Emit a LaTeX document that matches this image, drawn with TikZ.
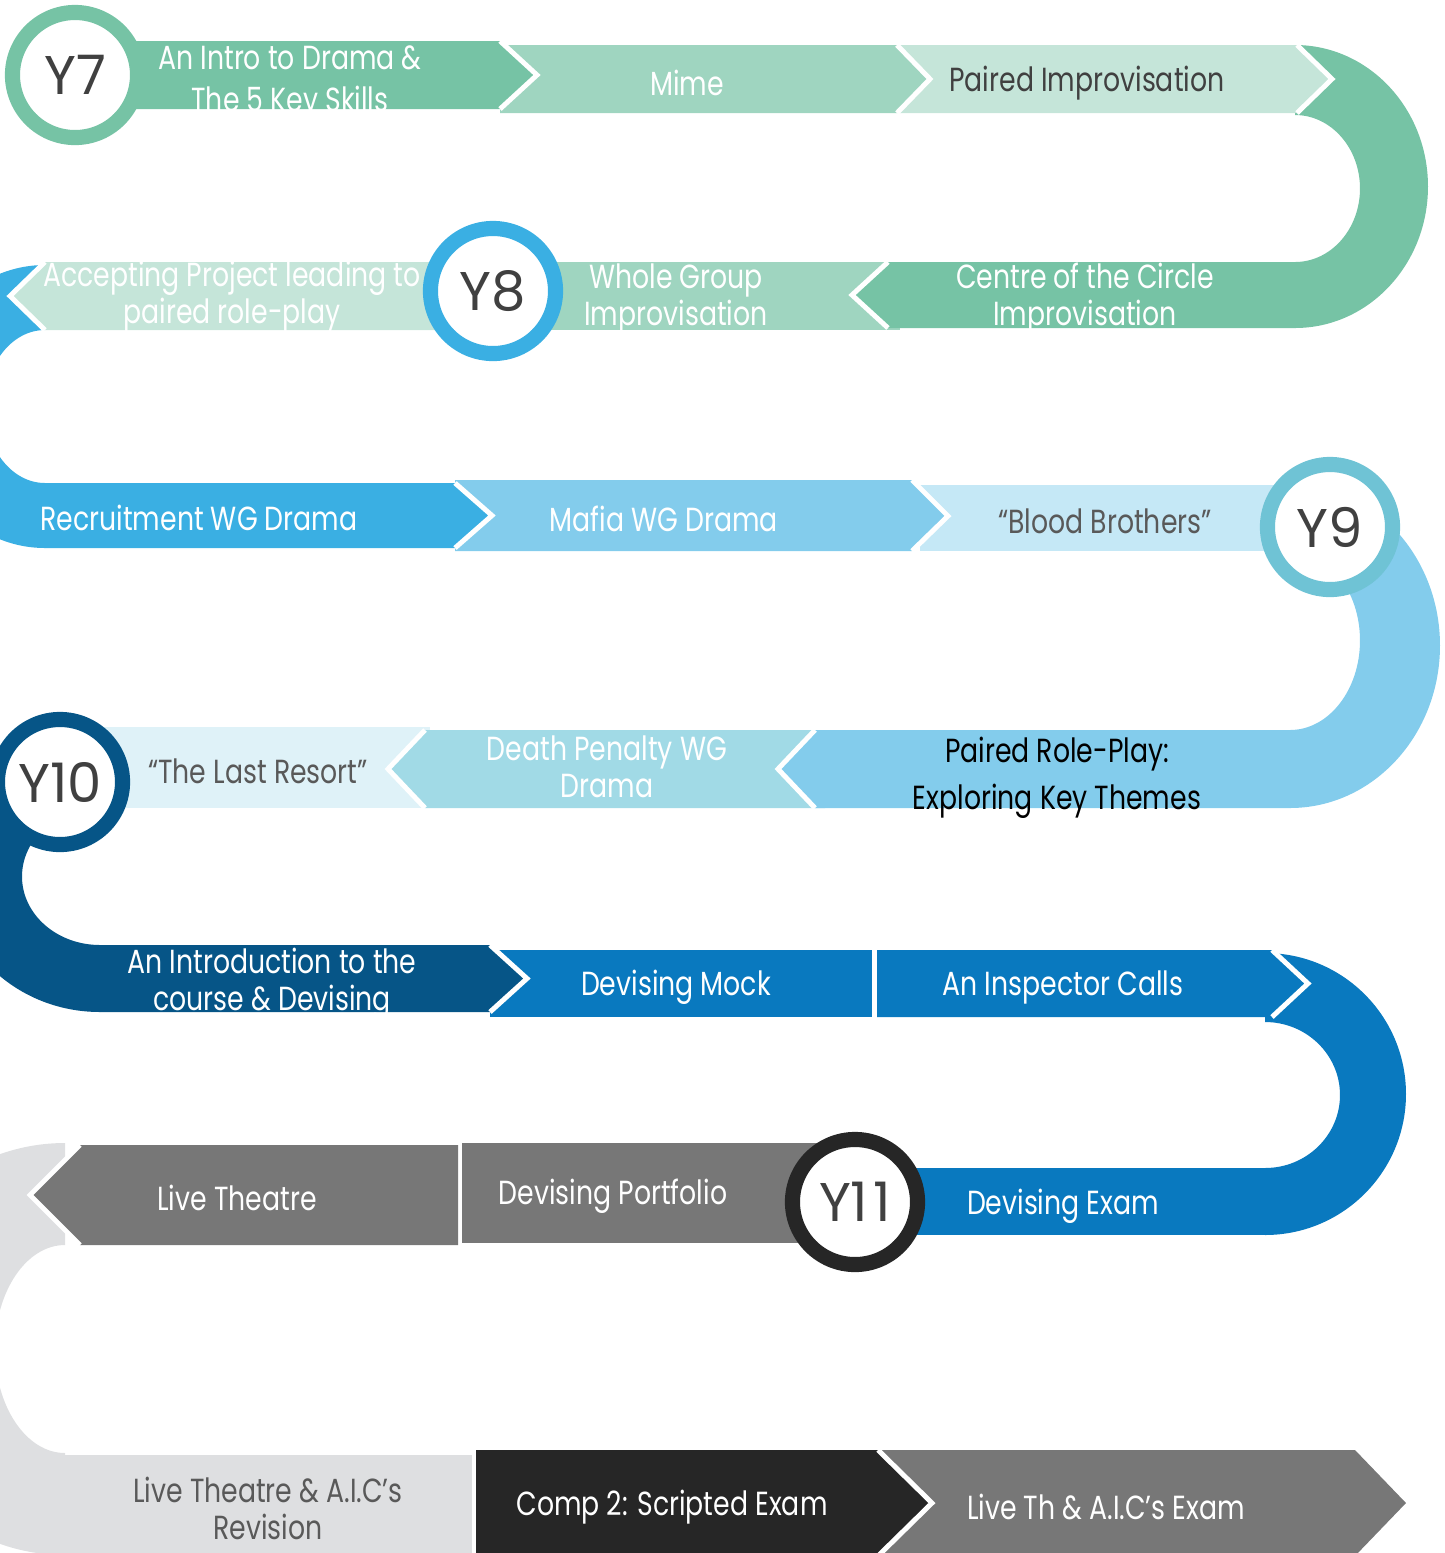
\documentclass[tikz,border=0pt]{standalone}
\usepackage{fontspec}
\setmainfont[FakeStretch=0.8]{Poppins}
\newfontfamily\yearfont{Poppins}

\definecolor{greenA}{HTML}{76C3A5}
\definecolor{greenB}{HTML}{9FD5C0}
\definecolor{greenC}{HTML}{C5E5D9}
\definecolor{blueA}{HTML}{3AAFE3}
\definecolor{blueB}{HTML}{83CCEC}
\definecolor{blueC}{HTML}{C5E8F6}
\definecolor{tealA}{HTML}{6FC3D5}
\definecolor{tealB}{HTML}{A1DAE6}
\definecolor{tealC}{HTML}{DFF2F8}
\definecolor{navy}{HTML}{065587}
\definecolor{royal}{HTML}{0979BF}
\definecolor{coal}{HTML}{262626}
\definecolor{slate}{HTML}{777777}
\definecolor{mist}{HTML}{DEDFE1}
\definecolor{ink}{HTML}{404040}
\definecolor{inkB}{HTML}{595959}

\begin{document}
\begin{tikzpicture}[x=0.01cm, y=-0.01cm,
    lbl/.style={text=white, align=center, yshift=-0.8pt, font=\fontsize{9.5}{10.5}\selectfont},
    gap/.style={draw=white, line width=1.4pt},
    year/.style={circle, draw=#1, line width=4.3pt, fill=white, minimum size=1.25cm,
      inner sep=0pt, text=ink, font=\yearfont\fontsize{15.5}{15.5}\selectfont}]
  \useasboundingbox (0,0) rectangle (1444,1553);
  \clip (0,0) rectangle (1444,1553);

  % Y7 row
  \fill[greenA] (1295,45) arc[start angle=-90, end angle=90, x radius=133, y radius=141.5]
    -- (1295,262) arc[start angle=90, end angle=-90, x radius=65, y radius=73.5] -- cycle;
  \fill[greenC] (897,45) -- (1297,45) -- (1332,79) -- (1297,113) -- (897,113) -- cycle;
  \draw[gap] (1297,45) -- (1332,79) -- (1297,113);
  \fill[greenB] (500,45) -- (897,45) -- (930,79) -- (897,113) -- (500,113) -- cycle;
  \draw[gap] (897,45) -- (930,79) -- (897,113);
  \fill[greenA] (120,41) -- (500,41) -- (537,75) -- (500,109) -- (120,109) -- cycle;
  \draw[gap] (500,41) -- (537,75) -- (500,109);
  \node[lbl, font=\fontsize{9.5}{12}\selectfont] (intro) at (290,80) {An Intro to Drama \&\\The 5 Key Skills};
  \node[lbl] (mime) at (687,80) {Mime};
  \node[lbl, text=ink] (paired) at (1087,80) {Paired Improvisation};
  \node[year=greenA] (y7) at (75,75) {Y7};

  % Y8 row
  \fill[blueA] (45,265) arc[start angle=-90, end angle=-270, x radius=130, y radius=141.5]
    -- (45,483) arc[start angle=90, end angle=270, x radius=60, y radius=76.5] -- cycle;
  \fill[greenB] (540,262) -- (900,262) -- (900,330) -- (540,330) -- cycle;
  \fill[greenA] (1295,262) -- (888,262) -- (852,295) -- (888,328) -- (1295,328) -- cycle;
  \draw[gap] (888,262) -- (852,295) -- (888,328);
  \fill[greenC] (450,262) -- (45,262) -- (10,296) -- (45,330) -- (450,330) -- cycle;
  \draw[gap] (45,262) -- (10,296) -- (45,330);
  \node[lbl] (centre) at (1085,296) {Centre of the Circle\\Improvisation};
  \node[lbl] (whole) at (676,296) {Whole Group\\Improvisation};
  \node[lbl] (accept) at (232,294) {Accepting Project leading to\\paired role-play};
  \node[year=blueA] (y8) at (493,291) {Y8};

  % Y9 row
  \fill[blueB] (1290,483) arc[start angle=-90, end angle=90, x radius=150, y radius=162.5]
    -- (1290,730) arc[start angle=90, end angle=-90, x radius=70, y radius=89.5] -- cycle;
  \fill[blueC] (920,485) -- (1300,485) -- (1300,551) -- (920,551) -- cycle;
  \fill[blueB] (455,480) -- (912,480) -- (948,516) -- (912,551) -- (455,551) -- cycle;
  \draw[gap] (912,480) -- (948,516) -- (912,551);
  \fill[blueA] (45,483) -- (455,483) -- (492,515.5) -- (455,548) -- (45,548) -- cycle;
  \draw[gap] (455,483) -- (492,515.5) -- (455,548);
  \node[lbl] (recruit) at (199,515) {Recruitment WG Drama};
  \node[lbl] (mafia) at (664,516) {Mafia WG Drama};
  \node[lbl, text=inkB] (blood) at (1105,518) {“Blood Brothers”};
  \node[year=tealA] (y9) at (1330,527) {Y9};

  % Y10 row
  \fill[navy] (100,730) arc[start angle=-90, end angle=-270, x radius=150, y radius=141]
    -- (100,945) arc[start angle=90, end angle=270, x radius=78, y radius=68.5] -- cycle;
  \fill[tealC] (70,727) -- (430,727) -- (430,808) -- (70,808) -- cycle;
  \fill[tealB] (825,730) -- (425,730) -- (388,769) -- (425,808) -- (825,808) -- cycle;
  \draw[gap] (425,730) -- (388,769) -- (425,808);
  \fill[blueB] (1290,730) -- (815,730) -- (778,769) -- (815,808) -- (1290,808) -- cycle;
  \draw[gap] (815,730) -- (778,769) -- (815,808);
  \node[lbl, text=black, font=\fontsize{9.5}{13.4}\selectfont] (roleplay) at (1057,775) {Paired Role-Play:\\Exploring Key Themes};
  \node[lbl] (death) at (607,764) {Death Penalty WG\\Drama};
  \node[lbl, text=inkB] (resort) at (258,768) {“The Last Resort”};
  \node[year=navy] (y10) at (60,782) {Y10};

  % Y11 row
  \fill[royal] (1265,953) arc[start angle=-90, end angle=90, x radius=141, y radius=141]
    -- (1265,1168) arc[start angle=90, end angle=-90, x radius=75, y radius=73] -- cycle;
  \fill[royal] (877,950) -- (1272,950) -- (1308,983.5) -- (1272,1017) -- (877,1017) -- cycle;
  \draw[gap] (1272,950) -- (1308,983.5) -- (1272,1017);
  \fill[royal] (490,950) -- (872,950) -- (872,1017) -- (490,1017) -- cycle;
  \fill[navy] (100,945) -- (490,945) -- (527,978.5) -- (490,1012) -- (100,1012) -- cycle;
  \draw[gap] (490,945) -- (527,978.5) -- (490,1012);
  \node[lbl] (course) at (272,981) {An Introduction to the\\course \& Devising};
  \node[lbl] (mock) at (676,984) {Devising Mock};
  \node[lbl] (calls) at (1063,985) {An Inspector Calls};

  \fill[mist] (65,1143) arc[start angle=-90, end angle=-270, x radius=200, y radius=206]
    -- (65,1453) arc[start angle=90, end angle=270, x radius=70, y radius=104] -- cycle;
  \fill[royal] (1265,1168) -- (880,1168) -- (880,1235) -- (1265,1235) -- cycle;
  \fill[slate] (462,1143) -- (830,1143) -- (830,1243) -- (462,1243) -- cycle;
  \fill[slate] (458,1145) -- (80,1145) -- (30,1195) -- (80,1245) -- (458,1245) -- cycle;
  \draw[gap] (80,1145) -- (30,1195) -- (80,1245);
  \node[lbl] (exam) at (1063,1203) {Devising Exam};
  \node[lbl] (portfolio) at (613,1193) {Devising Portfolio};
  \node[lbl] (live) at (237,1195) {Live Theatre};
  \node[year=coal] (y11) at (855,1202) {Y1\kern1.5pt1};

  % last row
  \fill[mist] (65,1455) -- (472,1455) -- (472,1556) -- (65,1556) -- cycle;
  \fill[slate] (880,1450) -- (1355,1450) -- (1406,1503) -- (1355,1556) -- (880,1556) -- cycle;
  \fill[coal] (476,1450) -- (878,1450) -- (932,1503) -- (878,1556) -- (476,1556) -- cycle;
  \draw[gap] (878,1450) -- (932,1503) -- (878,1556);
  \node[lbl, text=inkB] (revision) at (268,1506) {Live Theatre \& A.I.C’s\\Revision};
  \node[lbl] (comp) at (672,1504) {Comp 2: Scripted Exam};
  \node[lbl] (final) at (1106,1504) {Live Th \& A.I.C’s Exam};
\end{tikzpicture}
\end{document}
